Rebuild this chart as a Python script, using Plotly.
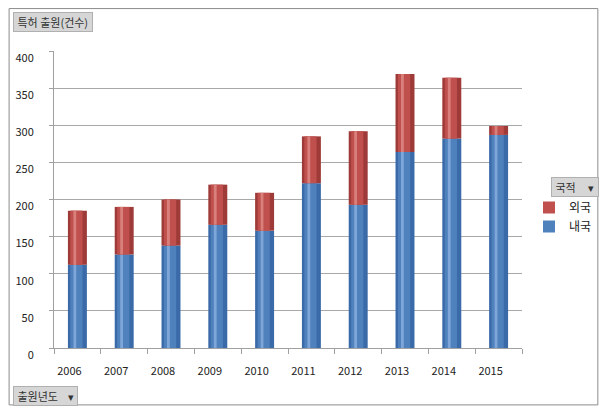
import plotly.graph_objects as go

years = ["2006", "2007", "2008", "2009", "2010", "2011", "2012", "2013", "2014", "2015"]
domestic = [112, 126, 138, 166, 158, 222, 193, 264, 282, 287]   # 내국
foreign = [73, 64, 62, 54, 51, 63, 99, 105, 82, 12]             # 외국
y_ticks = [0, 50, 100, 150, 200, 250, 300, 350, 400]

# page body has an 8px margin on every side -> 592x398 figure fills the window
W, H = 592, 398
ml, mr, mt, mb = 45.5, 77.5, 43, 57.5
PW, PH = W - ml - mr, H - mt - mb
font_kr = "Noto Sans CJK KR, Malgun Gothic, sans-serif"


def px_x(x):
    # screen pixel -> paper coordinate
    return (x - 8 - ml) / PW


def px_y(y):
    return (H - mb - (y - 8)) / PH


fig = go.Figure()

# cylinder look: dark body, mid band, light highlight
shades = {
    "내국": ["#3A6AA8", "#4F81BD", "#7FA6D8"],
    "외국": ["#9E3A37", "#C0504D", "#D9807C"],
}
layers = [(0.405, -0.2025), (0.26, -0.15), (0.06, -0.085)]

for name, vals, base in [("내국", domestic, None), ("외국", foreign, domestic)]:
    for i, (w, off) in enumerate(layers):
        fig.add_trace(go.Bar(
            x=years, y=vals, base=base, name=name,
            width=w, offset=off,
            marker=dict(color=shades[name][i], line=dict(width=0)),
            showlegend=(i == 1),
            legendrank=2 if name == "내국" else 1,
            hoverinfo="skip" if i != 1 else None,
        ))

btn = dict(xref="paper", yref="paper", xanchor="left", yanchor="top",
           showarrow=False, bgcolor="#D6D6D6", bordercolor="#B0B0B0",
           borderpad=1, font=dict(size=11, color="#333333"))

fig.update_layout(
    width=W, height=H,
    margin=dict(l=ml, r=mr, t=mt, b=mb, autoexpand=False),
    barmode="overlay",
    plot_bgcolor="white", paper_bgcolor="white",
    font=dict(family=font_kr, size=11, color="#333333"),
    legend=dict(
        xref="container", yref="container",
        x=(597 - 8) / W, y=1 - (193 - 8) / H,
        xanchor="right", yanchor="top",
        itemwidth=30, font=dict(size=12, color="#222222"),
        bgcolor="rgba(0,0,0,0)", tracegroupgap=2,
    ),
    xaxis=dict(
        type="category", showgrid=False, showline=True, linecolor="#A0A0A0",
        ticks="outside", tickson="boundaries", ticklen=5, tickcolor="#A0A0A0",
        ticklabelshift=-8, ticklabelstandoff=13,
        tickfont=dict(size=11, color="#222222"),
    ),
    yaxis=dict(
        range=[0, 400], tickvals=y_ticks, showgrid=True, gridcolor="#A8A8A8",
        gridwidth=1, showline=True, linecolor="#A0A0A0", ticks="outside",
        ticklen=4, tickcolor="#A0A0A0", zeroline=False,
        ticklabelshift=7, ticklabelstandoff=13,
        tickfont=dict(size=11, color="#222222"),
    ),
    annotations=[
        dict(btn, text=" 특허 출원(건수) ", x=px_x(12), y=px_y(12)),
        dict(btn, text=" 출원년도    ▾ ", x=px_x(12), y=px_y(387)),
        dict(btn, text=" 국적     ▾ ", x=px_x(552), y=px_y(177)),
    ],
    shapes=[
        dict(type="rect", xref="paper", yref="paper",
             x0=px_x(8.5), x1=px_x(598.5), y0=px_y(405.5), y1=px_y(8.5),
             line=dict(color="#8C8C8C", width=1), layer="below"),
    ],
)

fig.write_html("out.html")
